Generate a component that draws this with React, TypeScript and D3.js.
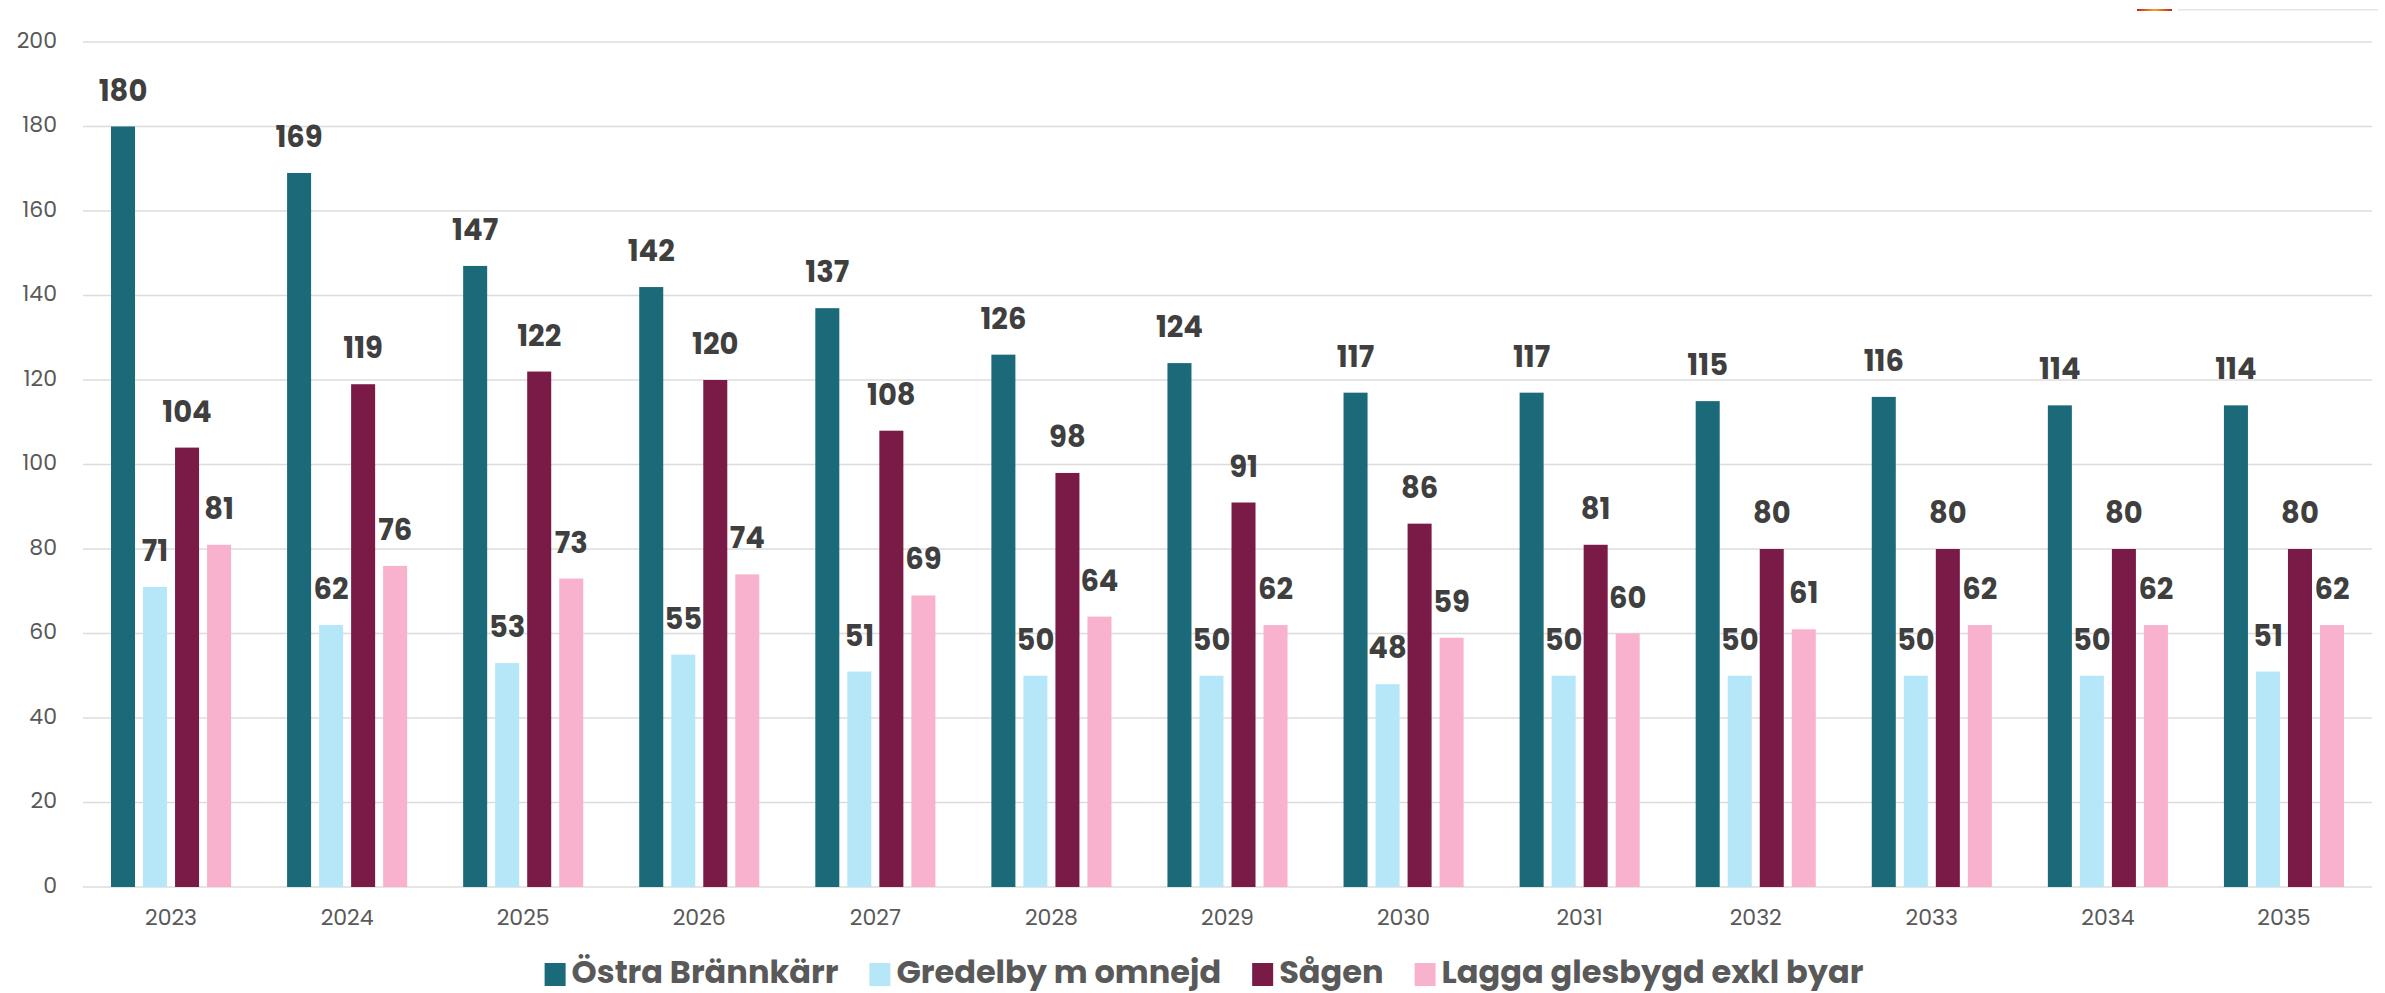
import React, { useEffect, useRef } from "react";
import * as d3 from "d3";

const years = ["2023","2024","2025","2026","2027","2028","2029","2030","2031","2032","2033","2034","2035"];
const seriesNames = ["Östra Brännkärr", "Gredelby m omnejd", "Sågen", "Lagga glesbygd exkl byar"];
const ostraBrannkarr = [180,169,147,142,137,126,124,117,117,115,116,114,114];
const gredelby = [71,62,53,55,51,50,50,48,50,50,50,50,51];
const sagen = [104,119,122,120,108,98,91,86,81,80,80,80,80];
const lagga = [81,76,73,74,69,64,62,59,60,61,62,62,62];
const yTicks = [0,20,40,60,80,100,120,140,160,180,200];
const colors = ["#1b6a7a", "#b5e7f8", "#7a1a46", "#f8b2ce"];

const W = 2385, H = 993;

export default function App() {
  const ref = useRef<SVGSVGElement>(null);
  useEffect(() => {
    document.body.style.margin = "0";
    const svg = d3.select(ref.current);
    svg.selectAll("*").remove();
    const font = "Poppins, 'Open Sans', Inter, sans-serif";
    const values = [ostraBrannkarr, gredelby, sagen, lagga];

    const y = d3.scaleLinear().domain([0, 200]).range([887, 42]);
    const x0 = d3.scaleBand<string>().domain(years).range([83, 2372]).paddingInner(0).paddingOuter(0);
    const bw = x0.bandwidth();
    const x1 = d3.scaleBand<string>().domain(seriesNames).range([bw * 0.159, bw * 0.841]).paddingInner(0.25);

    // top-right fragment
    const grad = svg.append("defs").append("linearGradient").attr("id", "frag");
    grad.append("stop").attr("offset", "0%").attr("stop-color", "#c81e1e");
    grad.append("stop").attr("offset", "50%").attr("stop-color", "#f5a623");
    grad.append("stop").attr("offset", "100%").attr("stop-color", "#c81e1e");
    svg.append("rect").attr("x", 2137).attr("y", 9).attr("width", 35).attr("height", 2).attr("fill", "url(#frag)");
    svg.append("rect").attr("x", 2178).attr("y", 9).attr("width", 200).attr("height", 1.5).attr("fill", "#e6e6e6");

    // grid
    svg.append("g").selectAll("line").data(yTicks).join("line")
      .attr("x1", 83).attr("x2", 2372)
      .attr("y1", d => y(d)).attr("y2", d => y(d))
      .attr("stroke", "#dcdcdc").attr("stroke-width", 1.6);

    svg.append("g").selectAll("text").data(yTicks).join("text")
      .attr("x", 57).attr("y", d => y(d) - 2).attr("dy", "0.35em")
      .attr("text-anchor", "end").attr("font-family", font).attr("font-size", 22)
      .attr("fill", "#595959").text(d => String(d));

    svg.append("g").selectAll("text").data(years).join("text")
      .attr("x", d => (x0(d) as number) + bw / 2).attr("y", 925)
      .attr("text-anchor", "middle").attr("font-family", font).attr("font-size", 22)
      .attr("fill", "#595959").text(d => d);

    const groups = svg.append("g").selectAll("g").data(years).join("g")
      .attr("transform", d => `translate(${x0(d)},0)`);

    seriesNames.forEach((s, si) => {
      groups.append("rect")
        .attr("x", x1(s) as number)
        .attr("width", x1.bandwidth())
        .attr("y", (_d, i) => y(values[si][i]))
        .attr("height", (_d, i) => y(0) - y(values[si][i]))
        .attr("fill", colors[si]);
    });
    seriesNames.forEach((s, si) => {
      groups.append("text")
        .attr("x", (x1(s) as number) + x1.bandwidth() / 2)
        .attr("y", (_d, i) => y(values[si][i]) - 26)
        .attr("text-anchor", "middle").attr("font-family", font).attr("font-weight", 700)
        .attr("font-size", 29).attr("fill", "#3f3f3f")
        .text((_d, i) => String(values[si][i]));
    });

    // legend
    const lg = svg.append("g");
    let cx = 0;
    seriesNames.forEach((s, si) => {
      const g = lg.append("g").attr("transform", `translate(${cx},0)`);
      g.append("rect").attr("x", 0).attr("y", 963).attr("width", 21).attr("height", 23).attr("fill", colors[si]);
      const t = g.append("text").attr("x", 27).attr("y", 983).attr("font-family", font)
        .attr("font-weight", 700).attr("font-size", 32).attr("fill", "#595959").text(s);
      const tw = (t.node() as SVGTextElement).getComputedTextLength();
      cx += 27 + tw + 31;
    });
    const total = cx - 31;
    lg.attr("transform", `translate(${1204 - total / 2},0)`);
  }, []);
  return (
    <svg ref={ref} width={W} height={H} style={{ position: "absolute", left: 0, top: 0, background: "#fff" }} />
  );
}
